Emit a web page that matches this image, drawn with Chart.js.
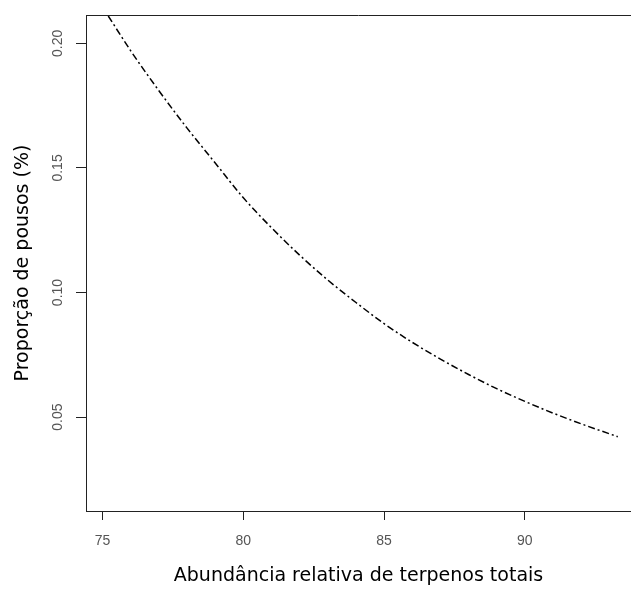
<!DOCTYPE html>
<html>
<head>
<meta charset="utf-8">
<script src="https://cdn.jsdelivr.net/npm/chart.js@4.4.1/dist/chart.umd.min.js"></script>
<style>
    html, body { margin: 0; padding: 0; background: #fff; }
    #wrap { width: 631px; height: 590px; }
</style>
</head>
<body>
<div id="wrap"><canvas id="curveChart"></canvas></div>
<script>
// Values
const abundance = [75.2, 76, 77, 78, 79, 80, 81, 82, 83, 84, 85, 86, 87, 88, 89, 90, 91, 92, 93, 93.3];
const proportion = [0.211, 0.197, 0.181, 0.166, 0.152, 0.138, 0.126, 0.115, 0.105, 0.096, 0.0875,
    0.080, 0.0733, 0.0671, 0.0614, 0.0563, 0.0516, 0.0473, 0.0433, 0.0421];
const xTicks = [75, 80, 85, 90];
const yTicks = [0.05, 0.10, 0.15, 0.20];

const tickFont = { family: "'Liberation Sans', Arial, sans-serif", size: 14 };
const titleFont = { family: "'DejaVu Sans', sans-serif", size: 19 };

// Top border of the box and the rotated y tick labels (R style)
const framePlugin = {
    id: 'frame',
    afterDraw(chart) {
        const ctx = chart.ctx;
        const area = chart.chartArea;
        const yScale = chart.scales.y;
        ctx.save();
        ctx.strokeStyle = '#222';
        ctx.lineWidth = 1;
        ctx.beginPath();
        ctx.moveTo(area.left, area.top + 0.5);
        ctx.lineTo(area.right, area.top + 0.5);
        ctx.stroke();

        ctx.fillStyle = '#555';
        ctx.font = tickFont.size + 'px ' + tickFont.family;
        ctx.textAlign = 'center';
        ctx.textBaseline = 'middle';
        yTicks.forEach(v => {
            const py = yScale.getPixelForValue(v);
            ctx.save();
            ctx.translate(58, py);
            ctx.rotate(-Math.PI / 2);
            ctx.fillText(v.toFixed(2), 0, 0);
            ctx.restore();
        });
        ctx.restore();
    }
};

const config = {
    type: 'line',
    data: {
        datasets: [{
            data: abundance.map((x, i) => ({ x: x, y: proportion[i] })),
            borderColor: '#000',
            borderWidth: 1.5,
            borderDash: [7, 3, 2, 3],
            pointRadius: 0,
            fill: false,
            cubicInterpolationMode: 'monotone'
        }]
    },
    options: {
        responsive: true,
        maintainAspectRatio: false,
        animation: false,
        layout: { padding: { top: 15, right: 0, left: 0, bottom: 0 } },
        plugins: {
            legend: { display: false },
            tooltip: { enabled: false }
        },
        scales: {
            x: {
                type: 'linear',
                min: 74.41,
                max: 93.77,
                afterBuildTicks: s => { s.ticks = xTicks.map(v => ({ value: v })); },
                afterFit: s => { s.height = 79; },
                grid: { drawOnChartArea: false, tickLength: 9, color: '#222' },
                border: { color: '#222', width: 1 },
                ticks: {
                    font: tickFont,
                    color: '#555',
                    padding: 13,
                    maxRotation: 0,
                    callback: v => String(v)
                },
                title: {
                    display: true,
                    text: 'Abundância relativa de terpenos totais',
                    font: titleFont,
                    color: '#000',
                    padding: { top: 0, bottom: 3 }
                }
            },
            y: {
                min: 0.0123,
                max: 0.2114,
                afterBuildTicks: s => { s.ticks = yTicks.map(v => ({ value: v })); },
                afterFit: s => { s.width = 86; },
                grid: { drawOnChartArea: false, tickLength: 10, color: '#222' },
                border: { color: '#222', width: 1 },
                ticks: { display: false },
                title: {
                    display: true,
                    text: 'Proporção de pousos (%)',
                    font: titleFont,
                    color: '#000',
                    padding: { top: 12, bottom: 0 }
                }
            }
        }
    },
    plugins: [framePlugin]
};

const ctx = document.getElementById('curveChart').getContext('2d');
const curveChart = new Chart(ctx, config);
</script>
</body>
</html>
